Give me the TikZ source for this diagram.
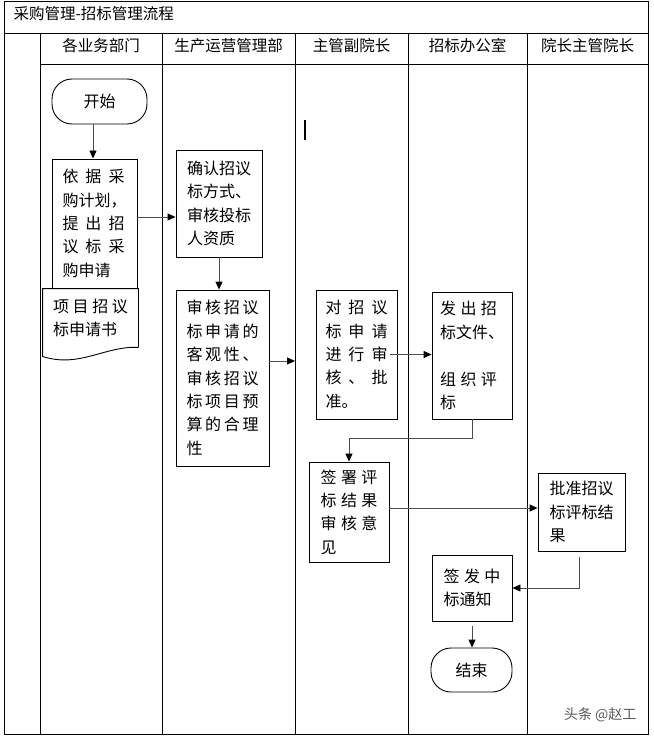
\documentclass[tikz,border=0pt]{standalone}
\usepackage{fontspec}
\setmainfont{Liberation Sans}
\newfontfamily\cjk{Noto Sans CJK SC}
\usetikzlibrary{arrows.meta}

% one line spread to a fixed width
\newcommand{\jl}[2][62pt]{\makebox[#1][s]{#2}}

\tikzset{
  lane/.style={line width=0.9pt},
  box/.style={draw, line width=0.9pt, inner sep=0pt, align=left,
    font=\cjk\fontsize{16}{23.4}\selectfont},
  term/.style={draw, line width=0.9pt, rounded corners=20pt, inner sep=0pt,
    font=\cjk\fontsize{16}{20}\selectfont},
  head/.style={font=\cjk\fontsize{15.5}{18}\selectfont},
  flow/.style={draw=black!70, line width=0.9pt,
    -{Triangle[length=8pt,width=7pt,color=black]}}
}

\begin{document}
\begin{tikzpicture}[x=1pt,y=-1pt]
\useasboundingbox (0,0) rectangle (653,738);

% table frame
\draw[lane] (4,1) rectangle (648,734);
\draw[lane] (4,33) -- (648,33);
\draw[lane] (40,64) -- (648,64);
\foreach \x in {40,162,295,408,527}
  \draw[lane] (\x,33) -- (\x,734);

\node[head, anchor=west] (title) at (10,14) {采购管理-招标管理流程};

% lane titles
\node[head] (dept) at (101,46) {各业务部门};
\node[head] (prod) at (228.5,46) {生产运营管理部};
\node[head] (vice) at (351.5,46) {主管副院长};
\node[head] (office) at (467.5,46) {招标办公室};
\node[head] (dean) at (587.5,46) {院长主管院长};

% stray cursor mark
\draw[line width=1.6pt] (305,120) -- (305,140);

% steps
\node[term, minimum width=95pt, minimum height=45pt] (start) at (99.5,101.5) {开始};
\node[box, minimum width=85pt, minimum height=129pt] (req) at (94.5,223.5)
  {\jl{依 据 采}\\购计划，\\\jl{提 出 招}\\\jl{议 标 采}\\购申请};
\node[box, draw=none, minimum width=95pt, minimum height=58pt] (form) at (90.5,318)
  {\jl[75pt]{项 目 招 议}\\标申请书};
\draw[line width=0.9pt] (form.south east) -- (form.north east) -- (form.north west)
  -- ([yshift=-9pt]form.south west)
  .. controls +(37,12) and +(-33,-2) .. (form.south east);

\node[box, minimum width=86pt, minimum height=107pt] (confirm) at (219,203.5)
  {确认招议\\标方式、\\审核投标\\人资质};
\node[box, minimum width=93pt, minimum height=176pt] (audit) at (222.5,378)
  {\jl[72pt]{审 核 招 议}\\\jl[72pt]{标 申 请 的}\\\jl[72pt]{客 观 性 、}\\\jl[72pt]{审 核 招 议}\\\jl[72pt]{标 项 目 预}\\\jl[72pt]{算 的 合 理}\\性};

\node[box, minimum width=81pt, minimum height=129pt] (approve) at (356.5,354.5)
  {\jl{对 招 议}\\\jl{标 申 请}\\\jl{进 行 审}\\\jl{核 、 批}\\准。};
\node[box, minimum width=80pt, minimum height=127pt] (issue) at (472,355.5)
  {\jl[57pt]{发 出 招}\\标文件、\\\mbox{}\\\jl[57pt]{组 织 评}\\标};
\node[box, minimum width=80pt, minimum height=100pt] (sign) at (349,512)
  {\jl[57pt]{签 署 评}\\\jl[57pt]{标 结 果}\\\jl[57pt]{审 核 意}\\见};
\node[box, minimum width=87pt, minimum height=78pt] (ratify) at (581.5,512)
  {批准招议\\标评标结\\果};
\node[box, minimum width=80pt, minimum height=66pt] (notice) at (472,588)
  {\jl[57pt]{签 发 中}\\标通知};
\node[term, minimum width=81pt, minimum height=44pt] (end) at (471.5,670) {结束};

% connectors
\coordinate (gate) at (295,361);
\draw[flow] ([xshift=-1.5pt]start.south -| req.north) -- ([xshift=-1.5pt]req.north);
\draw[flow] ([yshift=6.5pt]req.east) -- ([yshift=6.5pt]req.east -| confirm.west);
\draw[flow] (confirm.south) -- (confirm.south |- audit.north);
\draw[flow] (audit.east |- gate) -- (gate);
\draw[flow] ([xshift=-7pt]approve.east) -- (approve.east -| issue.west);
\draw[flow] (issue.south) -- ++(0,19) -| (sign.north);
\draw[flow] ([yshift=4pt]sign.east) -- ([yshift=4pt]ratify.west);
\draw[flow] ([xshift=-2.5pt,yshift=-6pt]ratify.south) |- (notice.east);
\draw[flow] ([yshift=-5pt]notice.south) -- (notice.south |- end.north);

\node[text=black!65, font=\cjk\fontsize{14}{16}\selectfont, anchor=east] (mark) at (640,715) {头条 @赵工};

\end{tikzpicture}
\end{document}
